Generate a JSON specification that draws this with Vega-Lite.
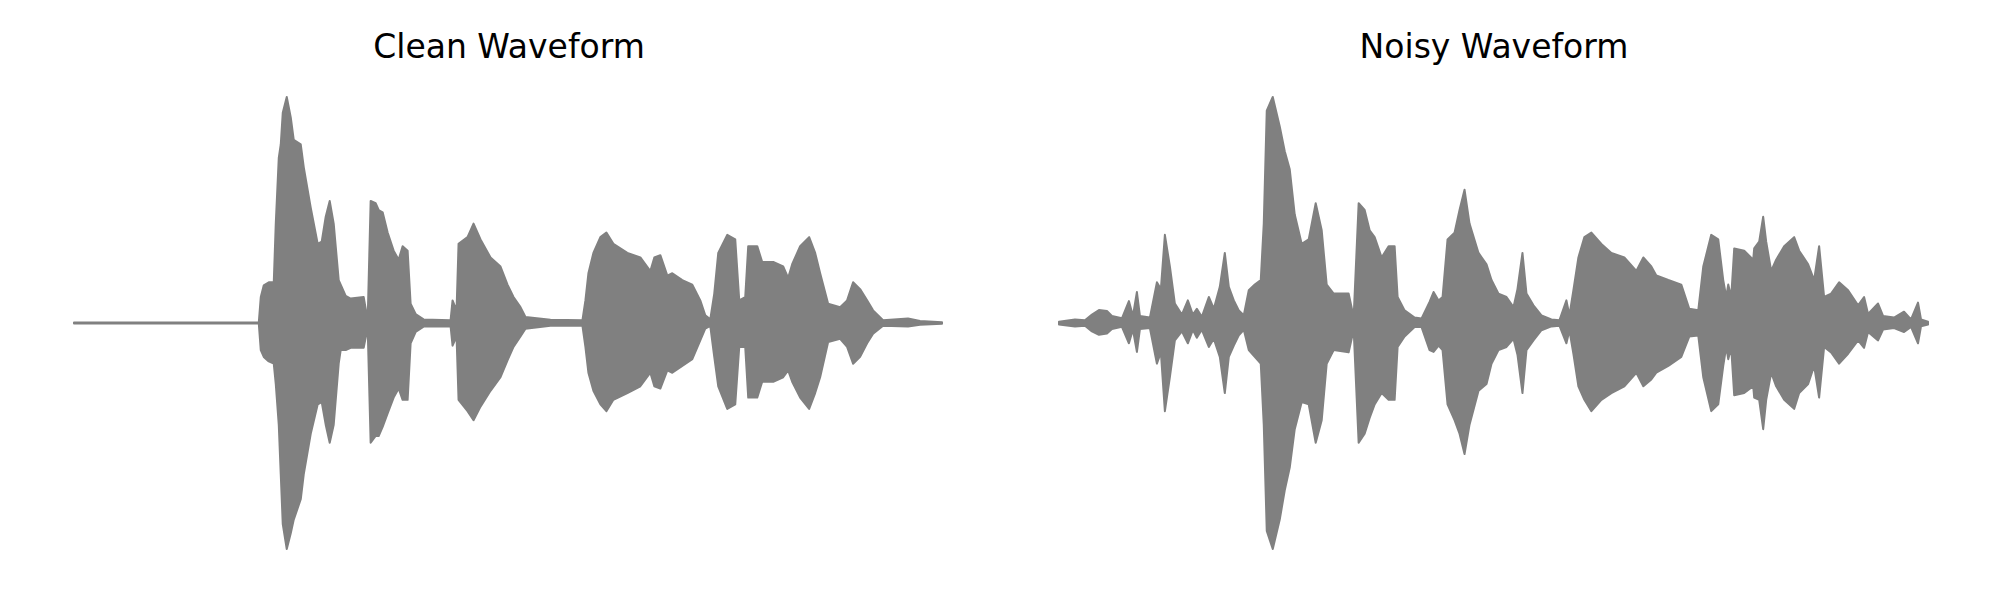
{
  "$schema": "https://vega.github.io/schema/vega-lite/v6.json",
  "background": "white",
  "padding": {"left": 73, "top": 32, "right": 10, "bottom": 10},
  "config": {
    "view": {"stroke": null},
    "title": {"font": "DejaVu Sans", "fontSize": 33, "fontWeight": "normal", "color": "black", "baseline": "alphabetic", "offset": 31, "anchor": "middle"}
  },
  "spacing": 114,
  "datasets": {
    "clean": [
      {"t":0.00,"hi":0.002,"lo":-0.002},{"t":0.90,"hi":0.002,"lo":-0.002},{"t":1.85,"hi":0.002,"lo":-0.002},
      {"t":1.87,"hi":0.115,"lo":-0.12},{"t":1.90,"hi":0.167,"lo":-0.15},{"t":1.95,"hi":0.18,"lo":-0.17},
      {"t":2.00,"hi":0.18,"lo":-0.18},{"t":2.02,"hi":0.44,"lo":-0.27},{"t":2.05,"hi":0.73,"lo":-0.45},
      {"t":2.07,"hi":0.79,"lo":-0.67},{"t":2.09,"hi":0.93,"lo":-0.89},{"t":2.13,"hi":1.00,"lo":-1.00},
      {"t":2.17,"hi":0.91,"lo":-0.93},{"t":2.20,"hi":0.81,"lo":-0.87},{"t":2.27,"hi":0.79,"lo":-0.78},
      {"t":2.30,"hi":0.69,"lo":-0.67},{"t":2.37,"hi":0.51,"lo":-0.49},{"t":2.44,"hi":0.35,"lo":-0.36},
      {"t":2.48,"hi":0.36,"lo":-0.35},{"t":2.52,"hi":0.47,"lo":-0.45},{"t":2.56,"hi":0.54,"lo":-0.53},
      {"t":2.60,"hi":0.44,"lo":-0.45},{"t":2.65,"hi":0.19,"lo":-0.18},{"t":2.67,"hi":0.17,"lo":-0.12},
      {"t":2.72,"hi":0.12,"lo":-0.12},{"t":2.77,"hi":0.108,"lo":-0.11},{"t":2.90,"hi":0.115,"lo":-0.11},
      {"t":2.94,"hi":0.012,"lo":-0.02},{"t":2.97,"hi":0.54,"lo":-0.53},{"t":3.02,"hi":0.53,"lo":-0.50},
      {"t":3.05,"hi":0.50,"lo":-0.50},{"t":3.09,"hi":0.49,"lo":-0.46},{"t":3.14,"hi":0.40,"lo":-0.40},
      {"t":3.20,"hi":0.32,"lo":-0.33},{"t":3.25,"hi":0.28,"lo":-0.29},{"t":3.29,"hi":0.34,"lo":-0.34},
      {"t":3.34,"hi":0.32,"lo":-0.34},{"t":3.37,"hi":0.086,"lo":-0.09},{"t":3.42,"hi":0.04,"lo":-0.04},
      {"t":3.50,"hi":0.016,"lo":-0.016},{"t":3.77,"hi":0.012,"lo":-0.014},{"t":3.79,"hi":0.10,"lo":-0.10},
      {"t":3.83,"hi":0.056,"lo":-0.06},{"t":3.85,"hi":0.35,"lo":-0.34},{"t":3.94,"hi":0.38,"lo":-0.39},
      {"t":4.00,"hi":0.44,"lo":-0.43},{"t":4.07,"hi":0.37,"lo":-0.37},{"t":4.17,"hi":0.29,"lo":-0.30},
      {"t":4.27,"hi":0.25,"lo":-0.24},{"t":4.34,"hi":0.17,"lo":-0.165},{"t":4.40,"hi":0.115,"lo":-0.106},
      {"t":4.47,"hi":0.07,"lo":-0.06},{"t":4.52,"hi":0.027,"lo":-0.025},{"t":4.77,"hi":0.014,"lo":-0.012},
      {"t":5.09,"hi":0.012,"lo":-0.012},{"t":5.12,"hi":0.10,"lo":-0.106},{"t":5.15,"hi":0.22,"lo":-0.22},
      {"t":5.20,"hi":0.31,"lo":-0.30},{"t":5.27,"hi":0.38,"lo":-0.36},{"t":5.33,"hi":0.40,"lo":-0.39},
      {"t":5.40,"hi":0.35,"lo":-0.34},{"t":5.54,"hi":0.31,"lo":-0.31},{"t":5.67,"hi":0.29,"lo":-0.28},
      {"t":5.77,"hi":0.23,"lo":-0.22},{"t":5.81,"hi":0.29,"lo":-0.28},{"t":5.87,"hi":0.30,"lo":-0.29},
      {"t":5.94,"hi":0.21,"lo":-0.21},{"t":5.99,"hi":0.22,"lo":-0.22},{"t":6.09,"hi":0.19,"lo":-0.19},
      {"t":6.19,"hi":0.17,"lo":-0.16},{"t":6.27,"hi":0.10,"lo":-0.077},{"t":6.32,"hi":0.034,"lo":-0.025},
      {"t":6.37,"hi":0.016,"lo":-0.013},{"t":6.41,"hi":0.13,"lo":-0.15},{"t":6.45,"hi":0.31,"lo":-0.28},
      {"t":6.54,"hi":0.39,"lo":-0.38},{"t":6.62,"hi":0.37,"lo":-0.36},{"t":6.66,"hi":0.10,"lo":-0.106},
      {"t":6.72,"hi":0.115,"lo":-0.106},{"t":6.75,"hi":0.34,"lo":-0.33},{"t":6.84,"hi":0.34,"lo":-0.33},
      {"t":6.89,"hi":0.27,"lo":-0.26},{"t":7.00,"hi":0.27,"lo":-0.26},{"t":7.10,"hi":0.25,"lo":-0.24},
      {"t":7.15,"hi":0.20,"lo":-0.21},{"t":7.19,"hi":0.26,"lo":-0.26},{"t":7.27,"hi":0.34,"lo":-0.33},
      {"t":7.36,"hi":0.38,"lo":-0.38},{"t":7.42,"hi":0.31,"lo":-0.31},{"t":7.47,"hi":0.22,"lo":-0.24},
      {"t":7.55,"hi":0.085,"lo":-0.084},{"t":7.67,"hi":0.07,"lo":-0.07},{"t":7.74,"hi":0.10,"lo":-0.106},
      {"t":7.80,"hi":0.18,"lo":-0.18},{"t":7.87,"hi":0.15,"lo":-0.15},{"t":7.94,"hi":0.10,"lo":-0.09},
      {"t":8.00,"hi":0.056,"lo":-0.047},{"t":8.10,"hi":0.012,"lo":-0.012},{"t":8.35,"hi":0.02,"lo":-0.015},
      {"t":8.47,"hi":0.009,"lo":-0.008},{"t":8.69,"hi":0.003,"lo":-0.003}
    ],
    "noisy": [
      {"t":0.00,"hi":0.006,"lo":-0.007},{"t":0.16,"hi":0.016,"lo":-0.015},{"t":0.26,"hi":0.012,"lo":-0.012},
      {"t":0.33,"hi":0.037,"lo":-0.037},{"t":0.40,"hi":0.057,"lo":-0.052},{"t":0.48,"hi":0.053,"lo":-0.047},
      {"t":0.53,"hi":0.031,"lo":-0.027},{"t":0.63,"hi":0.021,"lo":-0.017},{"t":0.70,"hi":0.097,"lo":-0.09},
      {"t":0.74,"hi":0.031,"lo":-0.029},{"t":0.78,"hi":0.137,"lo":-0.128},{"t":0.81,"hi":0.031,"lo":-0.027},
      {"t":0.91,"hi":0.024,"lo":-0.022},{"t":0.98,"hi":0.18,"lo":-0.18},{"t":1.02,"hi":0.15,"lo":-0.13},
      {"t":1.06,"hi":0.39,"lo":-0.39},{"t":1.11,"hi":0.25,"lo":-0.24},{"t":1.16,"hi":0.086,"lo":-0.077},
      {"t":1.23,"hi":0.037,"lo":-0.037},{"t":1.29,"hi":0.10,"lo":-0.09},{"t":1.34,"hi":0.037,"lo":-0.03},
      {"t":1.38,"hi":0.063,"lo":-0.065},{"t":1.43,"hi":0.027,"lo":-0.03},{"t":1.50,"hi":0.115,"lo":-0.106},
      {"t":1.55,"hi":0.063,"lo":-0.07},{"t":1.61,"hi":0.16,"lo":-0.15},{"t":1.66,"hi":0.31,"lo":-0.31},
      {"t":1.70,"hi":0.16,"lo":-0.15},{"t":1.75,"hi":0.10,"lo":-0.10},{"t":1.80,"hi":0.056,"lo":-0.055},
      {"t":1.85,"hi":0.034,"lo":-0.03},{"t":1.90,"hi":0.145,"lo":-0.12},{"t":1.96,"hi":0.17,"lo":-0.15},
      {"t":2.02,"hi":0.19,"lo":-0.18},{"t":2.05,"hi":0.44,"lo":-0.45},{"t":2.08,"hi":0.94,"lo":-0.92},
      {"t":2.14,"hi":1.00,"lo":-1.00},{"t":2.21,"hi":0.87,"lo":-0.87},{"t":2.26,"hi":0.76,"lo":-0.74},
      {"t":2.31,"hi":0.68,"lo":-0.64},{"t":2.36,"hi":0.48,"lo":-0.47},{"t":2.43,"hi":0.35,"lo":-0.35},
      {"t":2.50,"hi":0.37,"lo":-0.36},{"t":2.57,"hi":0.53,"lo":-0.53},{"t":2.63,"hi":0.41,"lo":-0.43},
      {"t":2.68,"hi":0.17,"lo":-0.18},{"t":2.75,"hi":0.13,"lo":-0.12},{"t":2.90,"hi":0.13,"lo":-0.13},
      {"t":2.95,"hi":0.027,"lo":-0.03},{"t":3.00,"hi":0.53,"lo":-0.53},{"t":3.06,"hi":0.50,"lo":-0.49},
      {"t":3.11,"hi":0.41,"lo":-0.42},{"t":3.16,"hi":0.38,"lo":-0.36},{"t":3.23,"hi":0.29,"lo":-0.31},
      {"t":3.30,"hi":0.34,"lo":-0.34},{"t":3.36,"hi":0.34,"lo":-0.34},{"t":3.39,"hi":0.115,"lo":-0.106},
      {"t":3.46,"hi":0.056,"lo":-0.06},{"t":3.56,"hi":0.024,"lo":-0.018},{"t":3.63,"hi":0.02,"lo":-0.018},
      {"t":3.71,"hi":0.093,"lo":-0.12},{"t":3.75,"hi":0.137,"lo":-0.128},{"t":3.80,"hi":0.10,"lo":-0.10},
      {"t":3.84,"hi":0.115,"lo":-0.12},{"t":3.89,"hi":0.37,"lo":-0.36},{"t":3.96,"hi":0.40,"lo":-0.43},
      {"t":4.01,"hi":0.50,"lo":-0.49},{"t":4.06,"hi":0.59,"lo":-0.58},{"t":4.11,"hi":0.44,"lo":-0.45},
      {"t":4.20,"hi":0.31,"lo":-0.30},{"t":4.28,"hi":0.26,"lo":-0.27},{"t":4.33,"hi":0.19,"lo":-0.18},
      {"t":4.40,"hi":0.13,"lo":-0.12},{"t":4.48,"hi":0.115,"lo":-0.106},{"t":4.55,"hi":0.07,"lo":-0.07},
      {"t":4.59,"hi":0.15,"lo":-0.14},{"t":4.64,"hi":0.31,"lo":-0.31},{"t":4.68,"hi":0.13,"lo":-0.12},
      {"t":4.75,"hi":0.078,"lo":-0.077},{"t":4.83,"hi":0.034,"lo":-0.032},{"t":4.93,"hi":0.016,"lo":-0.015},
      {"t":5.01,"hi":0.012,"lo":-0.012},{"t":5.08,"hi":0.10,"lo":-0.09},{"t":5.11,"hi":0.034,"lo":-0.032},
      {"t":5.15,"hi":0.145,"lo":-0.136},{"t":5.20,"hi":0.29,"lo":-0.28},{"t":5.26,"hi":0.38,"lo":-0.34},
      {"t":5.33,"hi":0.40,"lo":-0.39},{"t":5.43,"hi":0.35,"lo":-0.34},{"t":5.53,"hi":0.31,"lo":-0.31},
      {"t":5.66,"hi":0.29,"lo":-0.28},{"t":5.78,"hi":0.23,"lo":-0.22},{"t":5.85,"hi":0.29,"lo":-0.28},
      {"t":5.93,"hi":0.25,"lo":-0.25},{"t":5.98,"hi":0.21,"lo":-0.22},{"t":6.10,"hi":0.19,"lo":-0.19},
      {"t":6.23,"hi":0.17,"lo":-0.15},{"t":6.31,"hi":0.063,"lo":-0.06},{"t":6.40,"hi":0.056,"lo":-0.055},
      {"t":6.45,"hi":0.25,"lo":-0.24},{"t":6.53,"hi":0.39,"lo":-0.39},{"t":6.60,"hi":0.37,"lo":-0.36},
      {"t":6.65,"hi":0.19,"lo":-0.19},{"t":6.68,"hi":0.115,"lo":-0.106},{"t":6.70,"hi":0.17,"lo":-0.16},
      {"t":6.73,"hi":0.115,"lo":-0.11},{"t":6.76,"hi":0.33,"lo":-0.32},{"t":6.86,"hi":0.32,"lo":-0.31},
      {"t":6.95,"hi":0.28,"lo":-0.28},{"t":6.96,"hi":0.33,"lo":-0.33},{"t":7.01,"hi":0.36,"lo":-0.34},
      {"t":7.05,"hi":0.47,"lo":-0.47},{"t":7.08,"hi":0.36,"lo":-0.34},{"t":7.13,"hi":0.23,"lo":-0.22},
      {"t":7.18,"hi":0.28,"lo":-0.28},{"t":7.26,"hi":0.34,"lo":-0.34},{"t":7.36,"hi":0.38,"lo":-0.38},
      {"t":7.41,"hi":0.32,"lo":-0.31},{"t":7.50,"hi":0.26,"lo":-0.27},{"t":7.56,"hi":0.19,"lo":-0.19},
      {"t":7.61,"hi":0.34,"lo":-0.33},{"t":7.66,"hi":0.115,"lo":-0.106},{"t":7.73,"hi":0.13,"lo":-0.13},
      {"t":7.81,"hi":0.18,"lo":-0.18},{"t":7.90,"hi":0.145,"lo":-0.136},{"t":8.00,"hi":0.078,"lo":-0.077},
      {"t":8.06,"hi":0.115,"lo":-0.11},{"t":8.10,"hi":0.04,"lo":-0.04},{"t":8.20,"hi":0.086,"lo":-0.077},
      {"t":8.25,"hi":0.031,"lo":-0.029},{"t":8.36,"hi":0.024,"lo":-0.022},{"t":8.46,"hi":0.05,"lo":-0.04},
      {"t":8.53,"hi":0.016,"lo":-0.017},{"t":8.60,"hi":0.09,"lo":-0.09},{"t":8.63,"hi":0.016,"lo":-0.015},
      {"t":8.70,"hi":0.006,"lo":-0.007}
    ]
  },
  "hconcat": [
    {
      "title": "Clean Waveform",
      "width": 870,
      "height": 452,
      "data": {"name": "clean"},
      "mark": {"type": "area", "color": "#808080", "stroke": "#808080", "strokeWidth": 2, "strokeJoin": "round", "opacity": 1},
      "encoding": {
        "x": {"field": "t", "type": "quantitative", "scale": {"domain": [0, 8.71], "nice": false, "zero": false}, "axis": null},
        "y": {"field": "hi", "type": "quantitative", "scale": {"domain": [-1, 1], "nice": false}, "axis": null},
        "y2": {"field": "lo"}
      }
    },
    {
      "title": "Noisy Waveform",
      "width": 870,
      "height": 452,
      "data": {"name": "noisy"},
      "mark": {"type": "area", "color": "#808080", "stroke": "#808080", "strokeWidth": 2, "strokeJoin": "round", "opacity": 1},
      "encoding": {
        "x": {"field": "t", "type": "quantitative", "scale": {"domain": [0, 8.71], "nice": false, "zero": false}, "axis": null},
        "y": {"field": "hi", "type": "quantitative", "scale": {"domain": [-1, 1], "nice": false}, "axis": null},
        "y2": {"field": "lo"}
      }
    }
  ]
}
